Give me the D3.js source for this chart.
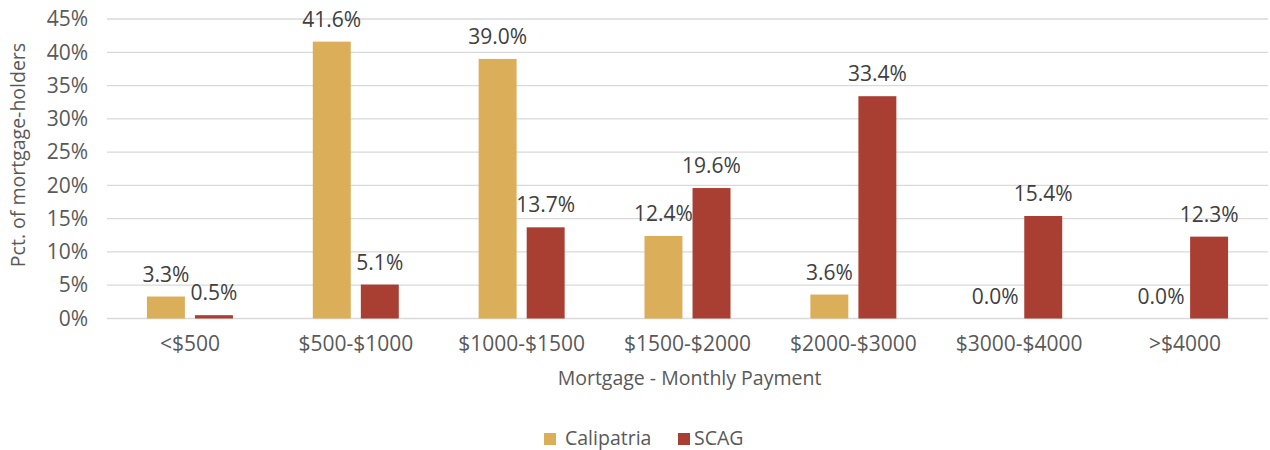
<!DOCTYPE html>
<html>
<head>
<meta charset="utf-8">
<script src="https://cdn.jsdelivr.net/npm/d3@7"></script>
<style>
  body { margin: 0; background: #fff; }
  svg { font-family: "Open Sans", "Liberation Sans", Arial, sans-serif; }
</style>
</head>
<body>
<div id="chart"></div>
<script>
var categories = ['<$500', '$500-$1000', '$1000-$1500', '$1500-$2000', '$2000-$3000', '$3000-$4000', '>$4000'];
var seriesNames = ['Calipatria', 'SCAG'];
var calipatria = [3.3, 41.6, 39.0, 12.4, 3.6, 0.0, 0.0];
var scag = [0.5, 5.1, 13.7, 19.6, 33.4, 15.4, 12.3];
var yTicks = [0, 5, 10, 15, 20, 25, 30, 35, 40, 45];

var colors = { 'Calipatria': '#dbae59', 'SCAG': '#a93e33' };
var values = { 'Calipatria': calipatria, 'SCAG': scag };

var width = 1270, height = 450;
var plotLeft = 107, plotRight = 1268, plotTop = 19, plotBottom = 318.5;
var fontSize = 21;
var titleSize = 19.5;
var fontFamily = '"Open Sans", "Liberation Sans", Arial, sans-serif';

var svg = d3.select('#chart')
    .append('svg')
    .attr('width', width)
    .attr('height', height);

var x0 = d3.scaleBand()
    .domain(categories)
    .range([plotLeft, plotRight])
    .padding(0);

var y = d3.scaleLinear()
    .domain([0, 45])
    .range([plotBottom, plotTop]);

// grid
svg.append('g')
    .selectAll('line')
    .data(yTicks)
    .enter()
    .append('line')
    .attr('x1', plotLeft)
    .attr('x2', plotRight)
    .attr('y1', function(d) { return y(d); })
    .attr('y2', function(d) { return y(d); })
    .attr('stroke', '#d9d9d9')
    .attr('stroke-width', 1.3);

// y axis labels
var yAxis = d3.axisLeft(y)
    .tickValues(yTicks)
    .tickSize(0)
    .tickPadding(0)
    .tickFormat(function(d) { return d + '%'; });

svg.append('g')
    .attr('transform', 'translate(88,0)')
    .call(yAxis)
    .call(function(g) { g.select('.domain').remove(); })
    .selectAll('text')
    .attr('font-size', fontSize)
    .attr('font-family', fontFamily)
    .attr('fill', '#595959');

// x axis labels
var xAxis = d3.axisBottom(x0).tickSize(0).tickPadding(0);
svg.append('g')
    .attr('transform', 'translate(0,' + plotBottom + ')')
    .call(xAxis)
    .call(function(g) { g.select('.domain').remove(); })
    .selectAll('text')
    .attr('dy', null)
    .attr('y', 32)
    .attr('font-size', fontSize)
    .attr('font-family', fontFamily)
    .attr('fill', '#595959');

// bars
var groups = svg.append('g')
    .selectAll('g')
    .data(categories)
    .enter()
    .append('g');

function x1For(cat) {
    var c = x0(cat) + x0.bandwidth() / 2;
    return d3.scaleBand().domain(seriesNames).range([c - 43, c + 43]).paddingInner(0.21);
}

seriesNames.forEach(function(s) {
    groups.append('rect')
        .attr('x', function(d) { return x1For(d)(s); })
        .attr('width', function(d) { return x1For(d).bandwidth(); })
        .attr('y', function(d, i) { return y(values[s][i]); })
        .attr('height', function(d, i) { return plotBottom - y(values[s][i]); })
        .attr('fill', colors[s]);

    groups.append('text')
        .attr('x', function(d) { return x1For(d)(s) + x1For(d).bandwidth() / 2; })
        .attr('y', function(d, i) { return y(values[s][i]) - 15; })
        .attr('text-anchor', 'middle')
        .attr('font-size', fontSize)
        .attr('fill', '#404040')
        .text(function(d, i) { return values[s][i].toFixed(1) + '%'; });
});

// axis titles
svg.append('text')
    .attr('x', (plotLeft + plotRight) / 2 + 2)
    .attr('y', 385)
    .attr('text-anchor', 'middle')
    .attr('font-size', titleSize)
    .attr('fill', '#595959')
    .text('Mortgage - Monthly Payment');

svg.append('text')
    .attr('transform', 'translate(25,155) rotate(-90)')
    .attr('text-anchor', 'middle')
    .attr('font-size', titleSize)
    .attr('fill', '#595959')
    .text('Pct. of mortgage-holders');

// legend
var legendItems = [{ name: 'Calipatria', x: 544 }, { name: 'SCAG', x: 678 }];
var legend = svg.append('g')
    .selectAll('g')
    .data(legendItems)
    .enter()
    .append('g')
    .attr('transform', function(d) { return 'translate(' + d.x + ',433)'; });

legend.append('rect')
    .attr('width', 12)
    .attr('height', 12)
    .attr('fill', function(d) { return colors[d.name]; });

legend.append('text')
    .attr('x', d => d.name === 'SCAG' ? 16 : 21)
    .attr('y', 12)
    .attr('font-size', titleSize)
    .attr('fill', '#595959')
    .text(function(d) { return d.name; });
</script>
</body>
</html>
